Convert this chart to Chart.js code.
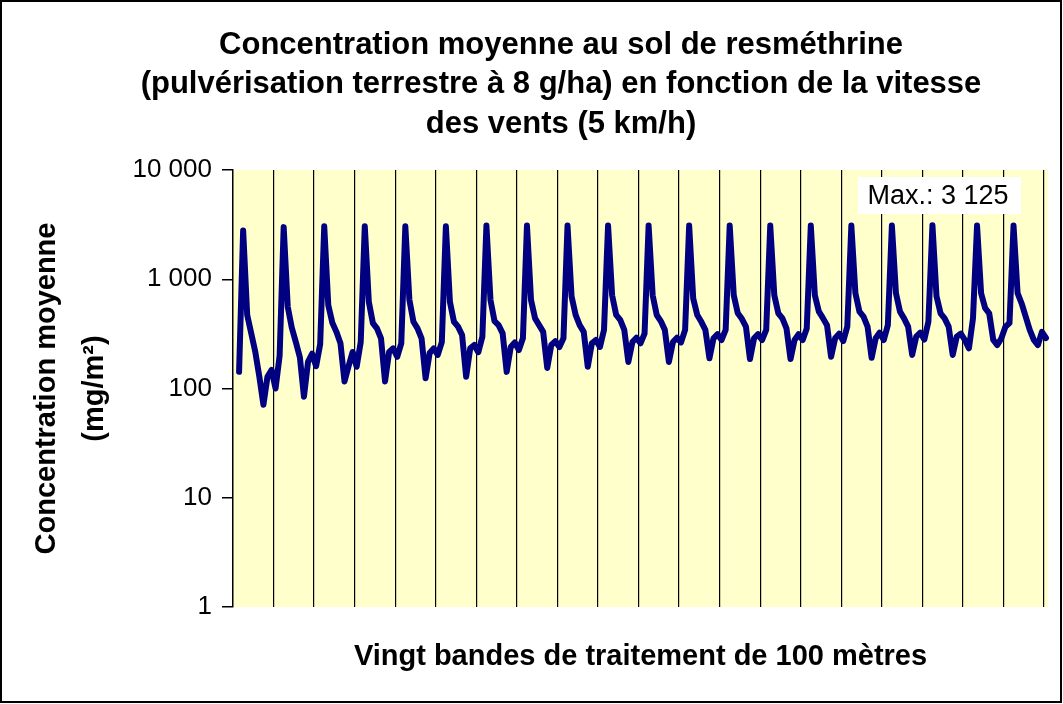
<!DOCTYPE html>
<html lang="fr">
<head>
<meta charset="utf-8">
<title>Concentration moyenne au sol de resméthrine</title>
<script src="https://cdn.jsdelivr.net/npm/chart.js@4.4.1/dist/chart.umd.min.js"></script>
<style>
  html, body { margin: 0; padding: 0; background: #fff; }
  #cadre { width: 1063px; height: 704px; }
</style>
</head>
<body>
<div id="cadre"><canvas id="graphique" width="1063" height="704"></canvas></div>
<script>
// Textes du graphique
var titre = [
    'Concentration moyenne au sol de resméthrine',
    '(pulvérisation terrestre à 8 g/ha) en fonction de la vitesse',
    'des vents (5 km/h)'
];
var titreAxeY = ['Concentration moyenne', '(mg/m²)'];
var titreAxeX = 'Vingt bandes de traitement de 100 mètres';

// Axe Y logarithmique
var graduationsY = [1, 10, 100, 1000, 10000];
var etiquettesY = ['1', '10', '100', '1 000', '10 000'];

// 10 points par bande de 100 m (le premier point n'existe pas)
var pointsParBande = 10;
var concentration = [
    null, 142, 2800, 471, 320, 216, 128, 71, 128, 148,
    100, 200, 3000, 560, 360, 266, 192, 84, 175, 208,
    160, 255, 3050, 580, 400, 330, 260, 116, 160, 216,
    158, 266, 3050, 620, 397, 355, 288, 116, 216, 233,
    195, 259, 3050, 650, 408, 355, 288, 124, 211, 233,
    203, 266, 3050, 620, 408, 368, 309, 128, 233, 250,
    215, 298, 3100, 646, 414, 380, 320, 142, 240, 264,
    225, 288, 3100, 646, 438, 380, 330, 154, 250, 271,
    240, 288, 3100, 697, 471, 380, 330, 158, 259, 278,
    240, 344, 3100, 714, 471, 424, 344, 175, 266, 292,
    259, 318, 3100, 714, 471, 414, 344, 175, 266, 292,
    264, 344, 3100, 667, 471, 408, 344, 189, 288, 314,
    278, 344, 3100, 714, 488, 434, 368, 186, 288, 314,
    278, 344, 3100, 714, 488, 438, 355, 186, 278, 314,
    278, 355, 3100, 714, 505, 440, 380, 195, 288, 318,
    271, 368, 3100, 745, 505, 454, 368, 191, 288, 325,
    278, 380, 3100, 745, 505, 438, 368, 203, 298, 325,
    281, 408, 3125, 700, 488, 438, 368, 203, 298, 318,
    278, 233, 438, 3100, 745, 544, 488, 278, 250, 288,
    368, 397, 3100, 745, 600, 454, 344, 278, 250, 330,
    290
];
var points = concentration.map(function (v, i) { return String(i); });

var police = 'Liberation Sans, Arial, sans-serif';

function milliers(n) {
    return String(n).replace(/\B(?=(\d{3})+(?!\d))/g, ' ');
}

var decor = {
    id: 'decor',
    beforeDraw: function (chart) {
        var ctx = chart.ctx, a = chart.chartArea;
        ctx.save();
        ctx.fillStyle = '#ffffff';
        ctx.fillRect(0, 0, chart.width, chart.height);
        ctx.fillStyle = '#ffffcc';
        ctx.fillRect(a.left, a.top, a.right - a.left, a.bottom - a.top);
        ctx.restore();
    },
    afterDraw: function (chart) {
        var ctx = chart.ctx, a = chart.chartArea;
        ctx.save();
        // titre
        ctx.fillStyle = '#000';
        ctx.font = 'bold 31px ' + police;
        ctx.textAlign = 'center';
        ctx.textBaseline = 'middle';
        titre.forEach(function (ligne, i) {
            ctx.fillText(ligne, 561, 45 + i * 39.5);
        });
        // étiquette du maximum
        var max = Math.max.apply(null, concentration.filter(function (v) { return v !== null; }));
        ctx.fillStyle = '#ffffff';
        ctx.fillRect(a.right - 190, a.top + 7, 163, 37);
        ctx.fillStyle = '#000';
        ctx.font = '27px ' + police;
        ctx.fillText('Max.: ' + milliers(max), a.right - 110, a.top + 27);
        // cadre
        ctx.strokeStyle = '#000';
        ctx.lineWidth = 2;
        ctx.strokeRect(1, 1, chart.width - 3, chart.height - 3);
        ctx.restore();
    }
};

new Chart(document.getElementById('graphique').getContext('2d'), {
    type: 'line',
    data: {
        labels: points,
        datasets: [{
            data: concentration,
            borderColor: '#000080',
            borderWidth: 6,
            borderJoinStyle: 'round',
            borderCapStyle: 'round',
            pointRadius: 0,
            tension: 0,
            fill: false
        }]
    },
    options: {
        responsive: false,
        animation: false,
        devicePixelRatio: 1,
        layout: { padding: { top: 170, right: 15, bottom: 0, left: 0 } },
        plugins: {
            legend: { display: false },
            tooltip: { enabled: false }
        },
        scales: {
            x: {
                type: 'category',
                offset: true,
                ticks: { display: false, autoSkip: false },
                grid: {
                    offset: true,
                    drawTicks: false,
                    lineWidth: 1.2,
                    color: function (c) {
                        return (c.index > 0 && c.index % pointsParBande === 0) ? '#000' : 'rgba(0,0,0,0)';
                    }
                },
                border: { display: false },
                title: {
                    display: true,
                    text: titreAxeX,
                    color: '#000',
                    font: { family: police, size: 29, weight: 'bold' },
                    padding: { top: 0, bottom: 30 }
                },
                afterFit: function (axis) { axis.height = 97; }
            },
            y: {
                type: 'logarithmic',
                position: 'left',
                min: 1,
                max: 10000,
                afterBuildTicks: function (axis) {
                    axis.ticks = graduationsY.map(function (v) { return { value: v }; });
                },
                afterFit: function (axis) { axis.width = 233; },
                ticks: {
                    autoSkip: false,
                    color: '#000',
                    padding: 10,
                    font: { family: police, size: 26 },
                    callback: function (value) { return etiquettesY[graduationsY.indexOf(value)]; }
                },
                grid: { drawOnChartArea: false, drawTicks: true, tickLength: 11, color: '#000', lineWidth: 1.5 },
                border: { display: true, color: '#000', width: 1.5 },
                title: {
                    display: true,
                    text: titreAxeY,
                    color: '#000',
                    font: { family: police, size: 29, weight: 'bold', lineHeight: '48px' },
                    padding: { top: 23, bottom: 0 }
                }
            }
        }
    },
    plugins: [decor]
});
</script>
</body>
</html>
